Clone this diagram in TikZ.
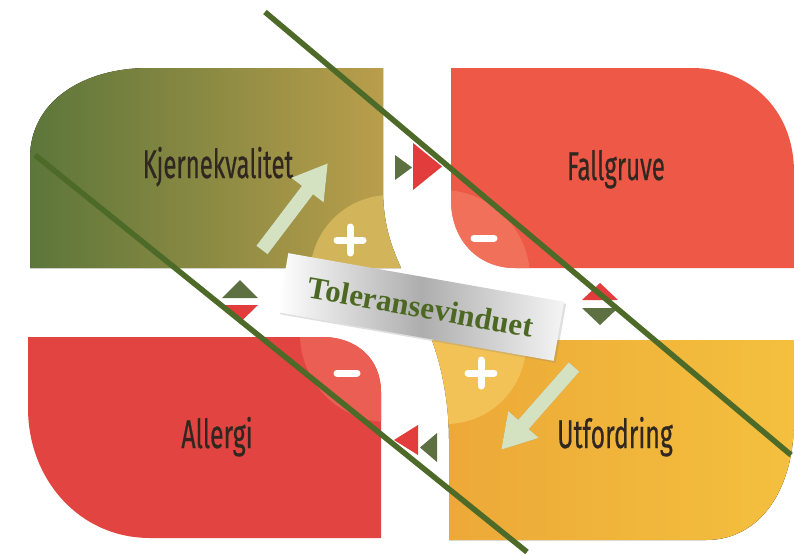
\documentclass[tikz,border=0pt]{standalone}
\usepackage{fontspec}
\setmainfont{Liberation Serif}
\newfontfamily\quadfont[FakeBold=0.6]{Fira Sans}
\usetikzlibrary{arrows.meta,shadows}

\definecolor{kjdark}{RGB}{92,118,58}
\definecolor{kjlight}{RGB}{190,160,76}
\definecolor{kjbub}{RGB}{210,180,90}
\definecolor{fallred}{RGB}{238,88,70}
\definecolor{fallbub}{RGB}{241,112,90}
\definecolor{allred}{RGB}{226,68,66}
\definecolor{allbub}{RGB}{234,94,84}
\definecolor{utfleft}{RGB}{236,168,56}
\definecolor{utfright}{RGB}{244,192,62}
\definecolor{utfbub}{RGB}{242,194,86}
\definecolor{diaggreen}{RGB}{78,106,40}
\definecolor{arrowgreen}{RGB}{212,226,194}
\definecolor{trigreen}{RGB}{92,112,66}
\definecolor{trired}{RGB}{226,60,60}
\definecolor{titlegreen}{RGB}{76,104,34}
\definecolor{quadtext}{RGB}{48,40,32}

% outlines of the four quadrants
\def\kjshape{(30,268) -- (30,158) .. controls (30,100) and (85,68) .. (148,68) -- (383,68) -- (383,190) .. controls (383,225) and (392,248) .. (401,268) -- cycle}
\def\fgshape{(451,68) -- (692,68) .. controls (750,68) and (794,110) .. (794,172) -- (794,268) -- (515,268) .. controls (478,268) and (451,240) .. (451,200) -- cycle}
\def\alshape{(28,337) -- (322,337) .. controls (358,337) and (381,360) .. (381,392) -- (381,538) -- (150,538) .. controls (80,538) and (28,480) .. (28,408) -- cycle}
\def\utshape{(432,340) -- (794,340) -- (794,420) .. controls (794,490) and (760,540) .. (706,540) -- (449,540) -- (449,440) .. controls (449,400) and (441,365) .. (432,340) -- cycle}

\begin{document}
\begin{tikzpicture}[x=1pt,y=-1pt,
  quadlabel/.style={anchor=base,text=quadtext,inner sep=0pt,
    font=\quadfont\fontsize{40}{40}\selectfont},
  sign/.style={white,line width=7pt,line cap=round},
  bigarrow/.style={draw=arrowgreen,line width=14pt,
    -{Triangle[width=38pt,length=34pt]}},
  arrowshadow/.style={draw=black,opacity=0.2,line width=14pt,
    -{Triangle[width=38pt,length=34pt]}},
  diag/.style={draw=diaggreen,line width=5.5pt},
  titlebox/.style={minimum width=280pt,minimum height=60pt,inner sep=0pt,
    left color=white,right color=white!92!gray,middle color=gray!64,
    drop shadow={opacity=0.25,shadow xshift=2pt,shadow yshift=-2pt},
    text=titlegreen,font=\bfseries\fontsize{31}{31}\selectfont}
]
\useasboundingbox (0,0) rectangle (794,555);
\fill[white] (0,0) rectangle (794,555);

% quadrant fills with their light corner bubbles
\fill[left color=kjdark,right color=kjlight] \kjshape;
\begin{scope}\clip \kjshape; \fill[kjbub] (390,275) circle (80); \end{scope}

\fill[fallred] \fgshape;
\begin{scope}\clip \fgshape; \fill[fallbub] (442,278) circle (88); \end{scope}

\fill[allred] \alshape;
\begin{scope}\clip \alshape; \fill[allbub] (388,334) circle (88); \end{scope}

\fill[left color=utfleft,right color=utfright] \utshape;
\begin{scope}\clip \utshape; \fill[utfbub] (446,344) circle (80); \end{scope}

% plus and minus signs
\draw[sign] (337,240) -- (363,240) (350,227) -- (350,253);
\draw[sign] (468,373) -- (494,373) (481,360) -- (481,386);
\draw[sign] (474,238) -- (494,238);
\draw[sign] (337,373) -- (357,373);

% quadrant names
\node[quadlabel] (kj) at (218,178) {\scalebox{0.6}[1]{Kjernekvalitet}};
\node[quadlabel] (fg) at (616,180) {\scalebox{0.6}[1]{Fallgruve}};
\node[quadlabel] (al) at (217,448) {\scalebox{0.62}[1]{Allergi}};
\node[quadlabel] (ut) at (615,448) {\scalebox{0.62}[1]{Utfordring}};

% small direction triangles in the gaps
\fill[trigreen] (395,155) -- (395,180) -- (412,167.5) -- cycle;
\fill[trired] (413,143) -- (413,190) -- (442,166.5) -- cycle;
\fill[trigreen] (222,298) -- (258,298) -- (240,280) -- cycle;
\fill[trired] (223,305) -- (258,305) -- (240.5,322) -- cycle;
\fill[trired] (582,300) -- (618,300) -- (600,283) -- cycle;
\fill[trigreen] (582,308) -- (618,308) -- (600,325) -- cycle;
\fill[trired] (418,425) -- (418,455) -- (394,440) -- cycle;
\fill[trigreen] (437,433) -- (437,462) -- (420,447.5) -- cycle;

% block arrows
\coordinate (a1t) at (262,250);
\coordinate (a1h) at (328,163);
\coordinate (a2t) at (574,367);
\coordinate (a2h) at (501,450);
\begin{scope}[shift={(2.5,2.5)}]
  \draw[arrowshadow] (a1t) -- (a1h);
  \draw[arrowshadow] (a2t) -- (a2h);
\end{scope}
\draw[bigarrow] (a1t) -- (a1h);
\draw[bigarrow] (a2t) -- (a2h);

% diagonal guide lines
\coordinate (ga1) at (265,12);
\coordinate (ga2) at (791,455);
\coordinate (gb1) at (35,155);
\coordinate (gb2) at (527,552);
\draw[diag] (ga1) -- (ga2);
\draw[diag] (gb1) -- (gb2);

% title band
\node[titlebox,rotate=-10] (tol) at (421,307) {Toleransevinduet};
\end{tikzpicture}
\end{document}
